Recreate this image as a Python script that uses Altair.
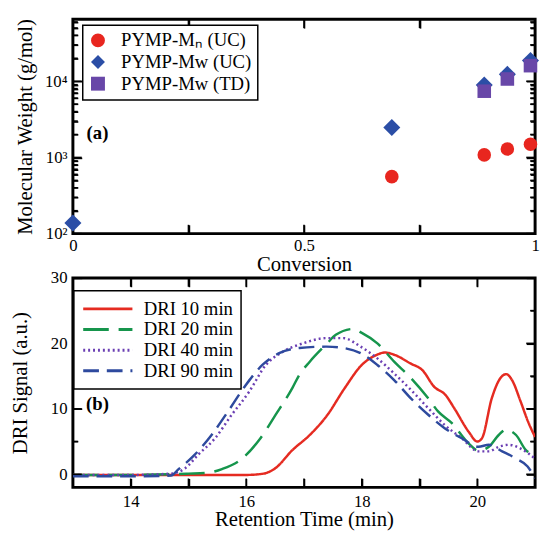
import altair as alt
import pandas as pd

FONT = "Times New Roman, Liberation Serif, serif"

# ---------------- panel (a) data ----------------
series_top = ["PYMP-Mₙ (UC)", "PYMP-Mw (UC)", "PYMP-Mw (TD)"]
colors_top = ["#e8261f", "#2b4ea6", "#6847a8"]
shapes_top = ["circle", "diamond", "square"]
sizes_top = [190, 300, 190]

conv_mn = [0.69, 0.89, 0.94, 0.99]
mn_uc = [560, 1080, 1290, 1490]
conv_mw_uc = [0.0, 0.69, 0.89, 0.94, 0.99]
mw_uc = [138, 2470, 8900, 12300, 18700]
conv_mw_td = [0.89, 0.94, 0.99]
mw_td = [7400, 10700, 16000]

x_ticks_top = [0.25, 0.5, 0.75]
y_major_top = [100, 1000, 10000]
y_minor_top = [200, 300, 400, 500, 600, 700, 800, 900,
               2000, 3000, 4000, 5000, 6000, 7000, 8000, 9000,
               20000, 30000, 40000, 50000, 60000]

# ---------------- panel (b) data ----------------
series_bot = ["DRI 10 min", "DRI 20 min", "DRI 40 min", "DRI 90 min"]
colors_bot = ["#e52b21", "#16954c", "#6b3fb3", "#2e4a9e"]
dashes_bot = [[1, 0], [26, 10], [2, 3], [16, 8]]

t10 = [13, 14, 15, 16, 16.3, 16.5, 16.8, 17.1, 17.4, 17.7, 18.0, 18.25, 18.4, 18.55, 18.85, 19.05,
       19.25, 19.45, 19.6, 19.85, 20.0, 20.08, 20.25, 20.4, 20.5, 20.6, 20.75, 20.88, 21.0]
s10 = [-0.1, -0.1, -0.1, -0.1, 0.1, 0.9, 3.7, 6.0, 9.0, 13.1, 16.7, 18.2, 18.6, 18.3, 16.9, 15.9,
       13.4, 12.1, 10.1, 6.5, 5.0, 5.5, 11.6, 14.7, 15.3, 14.4, 11.1, 8.0, 5.7]

t20 = [13, 14, 15, 15.3, 15.58, 15.93, 16.22, 16.51, 16.8, 16.92, 17.1, 17.39, 17.55, 17.85, 18.0,
       18.27, 18.56, 18.85, 19.15, 19.32, 19.56, 19.85, 20.02, 20.2, 20.37, 20.49, 20.67, 20.84, 21.0]
s20 = [-0.1, -0.1, 0.1, 0.2, 0.8, 2.4, 5.2, 9.1, 13.2, 15.2, 17.2, 19.9, 21.3, 22.2, 21.6,
       20.0, 17.2, 14.7, 11.6, 9.6, 7.8, 4.7, 3.6, 4.2, 6.0, 6.8, 6.0, 3.7, 3.0]

t40 = [13, 14, 14.7, 14.94, 15.17, 15.46, 15.75, 16.05, 16.34, 16.63, 16.98, 17.39, 17.68, 17.98,
       18.27, 18.56, 18.85, 19.15, 19.44, 19.73, 20.02, 20.2, 20.37, 20.55, 20.73, 21.0]
s40 = [-0.1, -0.1, 0.1, 0.9, 3.0, 5.5, 9.1, 12.6, 16.7, 18.7, 20.0, 20.8, 20.8, 19.5,
       17.7, 15.4, 12.9, 10.1, 7.5, 5.5, 3.5, 3.5, 4.2, 4.5, 4.0, 2.4]

t90 = [13, 14, 14.7, 14.82, 15.11, 15.4, 15.7, 15.99, 16.28, 16.57, 16.92, 17.39, 17.68, 17.98,
       18.27, 18.56, 18.85, 19.15, 19.44, 19.73, 20.02, 20.2, 20.43, 20.67, 20.87, 21.0]
s90 = [-0.3, -0.3, -0.2, 0.7, 3.0, 6.0, 9.8, 13.6, 16.7, 18.5, 19.3, 19.5, 19.3, 18.5,
       16.7, 14.4, 11.6, 9.1, 7.0, 5.5, 4.2, 4.5, 3.5, 2.4, 1.2, -0.6]

x_ticks_bot = [14, 15, 16, 17, 18, 19, 20]
y_major_bot = [0, 10, 20, 30]
y_minor_bot = [5, 15, 25]

# ---------------- tables ----------------
df_mn = pd.DataFrame({"conv": conv_mn, "mw": mn_uc, "series": series_top[0]})
df_uc = pd.DataFrame({"conv": conv_mw_uc, "mw": mw_uc, "series": series_top[1]})
df_td = pd.DataFrame({"conv": conv_mw_td, "mw": mw_td, "series": series_top[2]})

rows = []
for name, ts, ss in zip(series_bot, [t10, t20, t40, t90], [s10, s20, s40, s90]):
    for i, (t, s) in enumerate(zip(ts, ss)):
        rows.append({"time": t, "signal": s, "series": name, "i": i})
df_bot = pd.DataFrame(rows)

W = 470
H_TOP = 218
H_BOT = 213

TICK_RIGHTWARD = "M0,0H2"
TICK_LEFTWARD = "M0,0H-2"
TICK_DOWNWARD = "M0,0V2"
TICK_UPWARD = "M0,0V-2"


def label_axis(orient, values, title, labelExpr, labelPadding, titlePadding):
    return alt.Axis(orient=orient, values=values, ticks=False, domain=False, grid=False,
                    labelFont=FONT, labelFontSize=17, labelColor="black",
                    labelPadding=labelPadding, labelFlush=False, labelOverlap=False,
                    labelExpr=labelExpr, titleFont=FONT, titleFontSize=21,
                    titleFontWeight="normal", titleColor="black", titlePadding=titlePadding,
                    title=title)


def tick_axis(orient, values, length):
    # tick-only axis, ticks pointing into the plot
    return alt.Axis(orient=orient, values=values, labels=False, ticks=True, domain=False,
                    grid=False, title=None, tickColor="black", tickWidth=1.6,
                    tickSize=alt.ExprRef(expr=str(-length)))


def tick_layer(df, xfield, yfield, xscale, yscale, shape, length, xaxis, yaxis):
    return alt.Chart(df).mark_point(shape=shape, size=length * length, filled=False,
                                    color="black", strokeWidth=1.6, opacity=1).encode(
        x=alt.X(f"{xfield}:Q", scale=xscale, axis=xaxis),
        y=alt.Y(f"{yfield}:Q", scale=yscale, axis=yaxis),
    )


def frame_ticks(xscale, yscale, xdom, ydom, xvals, yvals, length):
    layers = []
    if yvals:
        left = pd.DataFrame({"v": yvals, "c": xdom[0]})
        right = pd.DataFrame({"v": yvals, "c": xdom[1]})
        layers.append(tick_layer(left, "c", "v", xscale, yscale, TICK_RIGHTWARD, length,
                                 None, tick_axis("left", yvals, length)))
        layers.append(tick_layer(right, "c", "v", xscale, yscale, TICK_LEFTWARD, length,
                                 None, tick_axis("right", yvals, length)))
    if xvals:
        bot = pd.DataFrame({"u": xvals, "r": ydom[0]})
        top = pd.DataFrame({"u": xvals, "r": ydom[1]})
        layers.append(tick_layer(bot, "u", "r", xscale, yscale, TICK_UPWARD, length,
                                 tick_axis("bottom", xvals, length), None))
        layers.append(tick_layer(top, "u", "r", xscale, yscale, TICK_DOWNWARD, length,
                                 tick_axis("top", xvals, length), None))
    return layers


# ---------------- panel (a) ----------------
xdom_top = [0, 1]
ydom_top = [100, 65000]
xs_top = alt.Scale(domain=xdom_top, nice=False, zero=False)
ys_top = alt.Scale(type="log", domain=ydom_top, nice=False)

leg_top = alt.Legend(title=None, orient="none", legendX=10, legendY=6, strokeColor="black",
                     fillColor="white", padding=6, labelFont=FONT,
                     labelFontSize=19, labelColor="black", symbolSize=200, labelOffset=14,
                     rowPadding=2, symbolStrokeWidth=0, symbolOpacity=1)

color_top = alt.Color("series:N", scale=alt.Scale(domain=series_top, range=colors_top), legend=leg_top)
shape_top = alt.Shape("series:N", scale=alt.Scale(domain=series_top, range=shapes_top), legend=leg_top)

x_top_axis = label_axis("bottom", [0, 0.5, 1], "Conversion",
                        "datum.value==0?'0':datum.value==0.5?'0.5':'1'", 4, 0)
y_top_axis = label_axis("left", y_major_top, "Molecular Weight (g/mol)",
                        "datum.value==100?'10²':datum.value==1000?'10³':'10⁴'", 6, 9)

point_layers = []
for k, d in enumerate([df_mn, df_uc, df_td]):
    point_layers.append(
        alt.Chart(d).mark_point(filled=True, opacity=1, size=sizes_top[k]).encode(
            x=alt.X("conv:Q", scale=xs_top, axis=x_top_axis if k == 0 else None),
            y=alt.Y("mw:Q", scale=ys_top, axis=y_top_axis if k == 0 else None),
            color=color_top,
            shape=shape_top,
        )
    )

label_a = alt.Chart(pd.DataFrame({"t": ["(a)"]})).mark_text(
    font=FONT, fontSize=19, fontWeight="bold", color="black"
).encode(text="t:N", x=alt.value(25), y=alt.value(116))

top_layers = frame_ticks(xs_top, ys_top, xdom_top, ydom_top, x_ticks_top, y_major_top, 9)
top_layers += frame_ticks(xs_top, ys_top, xdom_top, ydom_top, [], y_minor_top, 5)
top_layers += point_layers
top_layers += [label_a]
top = alt.layer(*top_layers).resolve_axis(x="independent", y="independent").properties(
    width=W, height=H_TOP)

# ---------------- panel (b) ----------------
xdom_bot = [13, 21]
ydom_bot = [-2, 30]
xs_bot = alt.Scale(domain=xdom_bot, nice=False, zero=False)
ys_bot = alt.Scale(domain=ydom_bot, nice=False, zero=False)

leg_bot = alt.Legend(title=None, orient="none", legendX=1, legendY=13, strokeColor="black",
                     fillColor="white", padding=8, labelFont=FONT,
                     labelFontSize=19, labelColor="black", symbolSize=324,
                     symbolType="M-2.78,0H2.78", symbolOffset=16,
                     symbolStrokeWidth=3, labelOffset=26, rowPadding=0)

lines = alt.Chart(df_bot).mark_line(strokeWidth=2.5, interpolate="monotone", clip=True).encode(
    x=alt.X("time:Q", scale=xs_bot,
            axis=label_axis("bottom", [14, 16, 18, 20], "Retention Time (min)",
                            "datum.value+''", 6, 0)),
    y=alt.Y("signal:Q", scale=ys_bot,
            axis=label_axis("left", y_major_bot, "DRI Signal (a.u.)",
                            "datum.value+''", 6, 20)),
    color=alt.Color("series:N", scale=alt.Scale(domain=series_bot, range=colors_bot), legend=leg_bot),
    strokeDash=alt.StrokeDash("series:N", scale=alt.Scale(domain=series_bot, range=dashes_bot),
                              legend=leg_bot),
    order="i:Q",
)

label_b = alt.Chart(pd.DataFrame({"t": ["(b)"]})).mark_text(
    font=FONT, fontSize=19, fontWeight="bold", color="black"
).encode(text="t:N", x=alt.value(25), y=alt.value(128))

bot_layers = [lines]
bot_layers += frame_ticks(xs_bot, ys_bot, xdom_bot, ydom_bot, x_ticks_bot, y_major_bot, 9)
bot_layers += frame_ticks(xs_bot, ys_bot, xdom_bot, ydom_bot, [], y_minor_bot, 5)
bot_layers += [label_b]
bottom = alt.layer(*bot_layers).resolve_axis(x="independent", y="independent").properties(
    width=W, height=H_BOT)

chart = alt.vconcat(top, bottom, spacing=45, bounds="flush").resolve_scale(
    color="independent", shape="independent", strokeDash="independent"
).resolve_legend(
    color="independent", shape="independent", strokeDash="independent"
).properties(
    padding={"left": 0, "top": 2, "right": 0, "bottom": 0}, background="white"
).configure_view(stroke="black", strokeWidth=3).configure_legend(strokeWidth=1.5)

chart.save("out.html", embed_options={"renderer": "svg", "actions": False})
